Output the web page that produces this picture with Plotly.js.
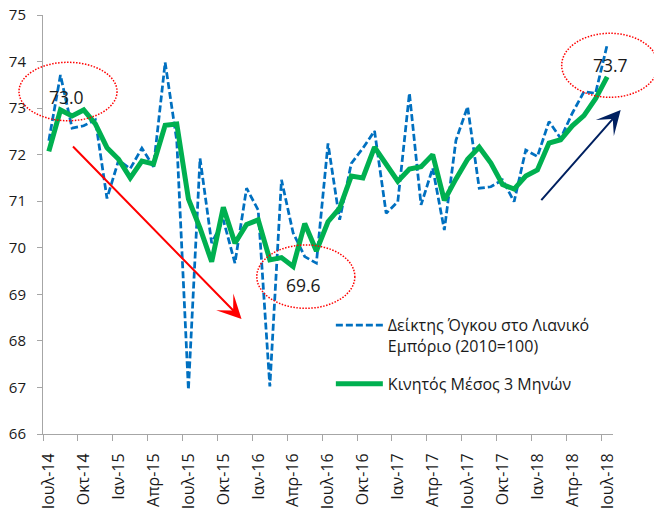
<!DOCTYPE html>
<html>
<head>
<meta charset="utf-8">
<script src="https://cdn.plot.ly/plotly-3.0.1.min.js"></script>
<style>html,body{margin:0;padding:0;background:#fff;}#chart{width:654px;height:508px;}</style>
</head>
<body>
<div id="chart"></div>
<script>
const months = ["Ιουλ-14","Αυγ-14","Σεπ-14","Οκτ-14","Νοε-14","Δεκ-14",
  "Ιαν-15","Φεβ-15","Μαρ-15","Απρ-15","Μαϊ-15","Ιουν-15","Ιουλ-15","Αυγ-15","Σεπ-15","Οκτ-15","Νοε-15","Δεκ-15",
  "Ιαν-16","Φεβ-16","Μαρ-16","Απρ-16","Μαϊ-16","Ιουν-16","Ιουλ-16","Αυγ-16","Σεπ-16","Οκτ-16","Νοε-16","Δεκ-16",
  "Ιαν-17","Φεβ-17","Μαρ-17","Απρ-17","Μαϊ-17","Ιουν-17","Ιουλ-17","Αυγ-17","Σεπ-17","Οκτ-17","Νοε-17","Δεκ-17",
  "Ιαν-18","Φεβ-18","Μαρ-18","Απρ-18","Μαϊ-18","Ιουν-18","Ιουλ-18"];

const retailVolume = [72.3, 73.71, 72.57, 72.62, 72.75, 71.06,
  71.88, 71.7, 72.14, 71.74, 73.98, 72.3, 66.95, 71.92, 70.1, 70.6, 69.67, 71.28,
  70.81, 67.02, 71.46, 70.32, 69.81, 69.67, 72.24, 70.6, 71.81, 72.14, 72.51, 70.74,
  70.99, 73.32, 70.92, 71.71, 70.38, 72.31, 73.03, 71.28, 71.31, 71.46, 70.99, 72.1,
  71.96, 72.71, 72.35, 72.89, 73.35, 73.32, 74.36];

const movingAvg3 = [72.07, 72.96, 72.83, 72.96, 72.66, 72.15,
  71.9, 71.5, 71.86, 71.8, 72.63, 72.66, 71.05, 70.42, 69.7, 70.87, 70.1, 70.5,
  70.6, 69.74, 69.79, 69.6, 70.52, 69.93, 70.56, 70.85, 71.54, 71.5, 72.16, 71.8,
  71.43, 71.69, 71.74, 72.0, 71.02, 71.48, 71.9, 72.16, 71.82, 71.36, 71.26, 71.54,
  71.67, 72.25, 72.32, 72.62, 72.84, 73.2, 73.67];

const tickLabels = ["Ιουλ-14","Οκτ-14","Ιαν-15","Απρ-15","Ιουλ-15","Οκτ-15","Ιαν-16","Απρ-16",
  "Ιουλ-16","Οκτ-16","Ιαν-17","Απρ-17","Ιουλ-17","Οκτ-17","Ιαν-18","Απρ-18","Ιουλ-18"];

const seriesNames = ["Δείκτης Όγκου στο Λιανικό<br>Εμπόριο (2010=100)", "Κινητός Μέσος 3 Μηνών"];

const xIdx = months.map((m, i) => i);
const tickVals = tickLabels.map(t => months.indexOf(t) - 0.5);

const FONT = "'Open Sans', 'Noto Sans', sans-serif";
const AXIS_COLOR = "#a6a6a6";
const ELLIPSE_LINE = {color: "#ff0000", width: 1.5, dash: "1.5px,1.5px"};

const traces = [
  {x: xIdx, y: retailVolume, name: seriesNames[0], legendgroup: "a", type: "scatter", mode: "lines",
   line: {color: "#0070C0", width: 2.75, dash: "7px,3px"}},
  {x: xIdx, y: movingAvg3, name: seriesNames[1], legendgroup: "b", type: "scatter", mode: "lines",
   line: {color: "#00B050", width: 5}}
];

const layout = {
  width: 654, height: 508,
  margin: {l: 43, r: 41, t: 15, b: 74},
  paper_bgcolor: "#fff", plot_bgcolor: "#fff",
  font: {family: FONT, size: 15, color: "#1a1a1a"},
  showlegend: true,
  legend: {x: 0.505, y: 0.30, xanchor: "left", yanchor: "top", valign: "top",
    traceorder: "grouped", tracegroupgap: 14,
    font: {family: FONT, size: 16, color: "#1a1a1a"}, bgcolor: "rgba(0,0,0,0)", itemwidth: 47},
  xaxis: {range: [-0.5, 48.5], tickmode: "array", tickvals: tickVals, ticktext: tickLabels,
    tickangle: -90, ticks: "outside", ticklen: 6, tickcolor: AXIS_COLOR, showline: true,
    linecolor: AXIS_COLOR, linewidth: 1, showgrid: false, zeroline: false,
    ticklabelshift: 6, ticklabelstandoff: 6, tickfont: {size: 16}},
  yaxis: {range: [66, 75], dtick: 1, ticks: "outside", ticklen: 5, tickcolor: AXIS_COLOR,
    showline: true, linecolor: AXIS_COLOR, linewidth: 1, showgrid: false, zeroline: false,
    ticklabelstandoff: 8, tickfont: {size: 15}},
  shapes: [
    {type: "circle", xref: "paper", yref: "paper", x0: -0.0421, x1: 0.1299, y0: 0.7477, y1: 0.8871,
     line: ELLIPSE_LINE},
    {type: "circle", xref: "paper", yref: "paper", x0: 0.3751, x1: 0.5471, y0: 0.300, y1: 0.4511,
     line: ELLIPSE_LINE},
    {type: "circle", xref: "paper", yref: "paper", x0: 0.910, x1: 1.079, y0: 0.8036, y1: 0.9563,
     line: ELLIPSE_LINE}
  ],
  annotations: [
    {xref: "x", yref: "y", x: 1.5, y: 73.24, text: "73.0", showarrow: false,
     font: {size: 17.5, color: "#1a1a1a"}},
    {xref: "x", yref: "y", x: 21.92, y: 69.2, text: "69.6", showarrow: false,
     font: {size: 17.5, color: "#1a1a1a"}},
    {xref: "x", yref: "y", x: 48.29, y: 73.93, text: "73.7", showarrow: false,
     font: {size: 17.5, color: "#1a1a1a"}},
    {xref: "paper", yref: "paper", x: 0.3483, y: 0.2745, ax: -170, ay: -174, text: "",
     showarrow: true, arrowhead: 3, arrowsize: 2, arrowwidth: 2, arrowcolor: "#ff0000", standoff: 0},
    {xref: "paper", yref: "paper", x: 1.0135, y: 0.7733, ax: -80.7, ay: 91.7, text: "",
     showarrow: true, arrowhead: 3, arrowsize: 2, arrowwidth: 2, arrowcolor: "#002060", standoff: 0}
  ]
};

Plotly.newPlot("chart", traces, layout, {displayModeBar: false, staticPlot: true});
</script>
</body>
</html>
